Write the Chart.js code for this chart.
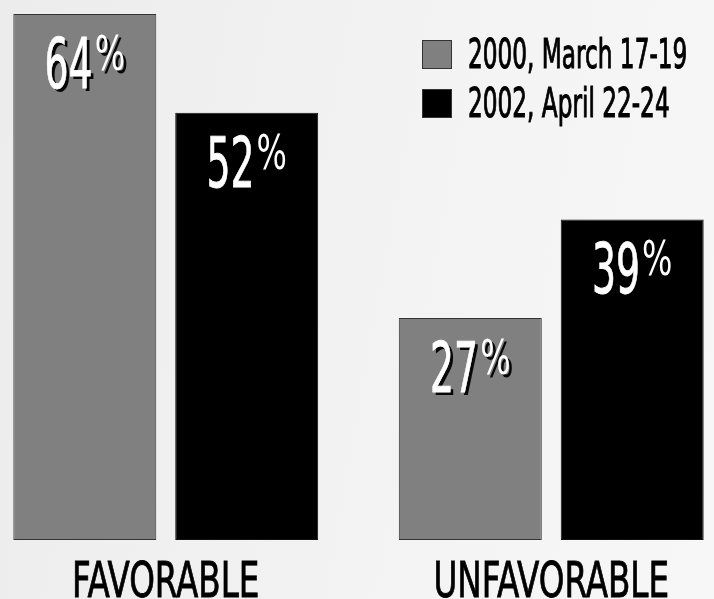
<!DOCTYPE html>
<html>
<head>
<meta charset="utf-8">
<script src="https://cdn.jsdelivr.net/npm/chart.js@4/dist/chart.umd.min.js"></script>
<style>
  html, body { margin: 0; padding: 0; width: 714px; height: 599px; overflow: hidden; }
  body { background: linear-gradient(100deg, #ececec 0%, #f3f3f3 55%, #f7f7f7 100%); position: relative; font-family: "DejaVu Sans Condensed", "Liberation Sans Narrow", sans-serif; }
  #wrap { position: absolute; left: -27px; top: 0; width: 771px; height: 599px; }
  #legend { position: absolute; left: 422px; top: 40px; }
  .item { height: 49px; display: flex; align-items: flex-start; white-space: nowrap; }
  .box { width: 30px; height: 29px; box-sizing: border-box; border: 1px solid #333; margin-right: 16px; flex: none; }
  .txt { font-size: 40px; line-height: 29px; color: #000; -webkit-text-stroke: 1px #000; display: inline-block; transform: scaleX(0.645); transform-origin: left top; }
</style>
</head>
<body>
<div id="wrap"><canvas id="chart" width="771" height="599"></canvas></div>
<div id="legend"></div>
<script>
/* ---------------------------------------------------
   data
----------------------------------------------------- */
var categories = ["FAVORABLE", "UNFAVORABLE"];
var seriesNames = ["2000, March 17-19", "2002, April 22-24"];
var values2000 = [64, 27];
var values2002 = [52, 39];
var seriesColors = ["#808080", "#000000"];

var labelFont = '"DejaVu Sans Condensed", "Liberation Sans Narrow", sans-serif';

/* ---------------------------------------------------
   legend (html)
----------------------------------------------------- */
var legendDiv = document.getElementById('legend');
for (var i = 0; i < seriesNames.length; i++) {
    var row = document.createElement("div");
    row.className = "item";
    row.innerHTML = "<span class=\"box\" style=\"background:" + seriesColors[i] + "\"></span><span class=\"txt\">" + seriesNames[i] + "</span>";
    legendDiv.appendChild(row);
}

/* ---------------------------------------------------
   value labels + category labels
----------------------------------------------------- */
function squeezedText(ctx, txt, x, y, sq, font, thick)
{
    ctx.save();
    ctx.translate(x, y);
    ctx.scale(sq, 1);
    ctx.font = font;
    ctx.fillText(txt, 0, 0);
    if (thick) {
        ctx.shadowColor = "transparent";
        ctx.lineWidth = thick;
        ctx.strokeStyle = ctx.fillStyle;
        ctx.strokeText(txt, 0, 0);
    }
    ctx.restore();
}

var barLabels = {
    id: 'barLabels',
    afterDatasetsDraw: function (chart) {
        var ctx = chart.ctx;
        var sqNum = 0.6, sqPct = 0.74;
        ctx.save();
        ctx.fillStyle = "#ffffff";
        ctx.textBaseline = "alphabetic";
        chart.data.datasets.forEach(function (ds, d) {
            var meta = chart.getDatasetMeta(d);
            meta.data.forEach(function (bar, k) {
                var num = String(ds.data[k]);
                var f1 = "70px " + labelFont, f2 = "48px " + labelFont;
                ctx.font = f1;
                var w1 = ctx.measureText(num).width * sqNum;
                ctx.font = f2;
                var w2 = ctx.measureText("%").width * sqPct;
                var left = bar.x - (w1 + w2 + 2) / 2;
                ctx.shadowColor = "rgba(0,0,0,0.95)";
                ctx.shadowOffsetX = 3;
                ctx.shadowOffsetY = 3;
                ctx.shadowBlur = 0;
                squeezedText(ctx, num, left, bar.y + 74, sqNum, f1, 0.8);
                squeezedText(ctx, "%", left + w1 + 2, bar.y + 56, sqPct, f2, 0);
            });
        });
        // category names under the groups
        var xs = chart.scales.x;
        ctx.shadowColor = "transparent";
        ctx.fillStyle = "#000000";
        var f3 = "49px " + labelFont;
        ctx.font = f3;
        for (var c = 0; c < categories.length; c++) {
            var cx = xs.getPixelForValue(c);
            var w = ctx.measureText(categories[c]).width * 0.74;
            squeezedText(ctx, categories[c], cx - w / 2, 597, 0.74, f3, 0.8);
        }
        ctx.restore();
    }
};

var ctxB = document.getElementById("chart").getContext('2d');
var myBarChart = new Chart(ctxB, {
    type: 'bar',
    data: {
        labels: categories,
        datasets: [{
            label: seriesNames[0],
            data: values2000,
            backgroundColor: seriesColors[0],
            borderColor: "#333333",
            borderWidth: 1,
            borderSkipped: false
        }, {
            label: seriesNames[1],
            data: values2002,
            backgroundColor: seriesColors[1],
            borderColor: "#111111",
            borderWidth: 1,
            borderSkipped: false
        }]
    },
    options: {
        responsive: false,
        animation: false,
        layout: { padding: { top: 14, bottom: 59, left: 0, right: 0 } },
        datasets: { bar: { categoryPercentage: 0.84, barPercentage: 0.883 } },
        scales: {
            x: { display: false },
            y: { display: false, min: 0, max: 64 }
        },
        plugins: {
            legend: { display: false },
            tooltip: { enabled: false }
        }
    },
    plugins: [barLabels]
});
</script>
</body>
</html>
